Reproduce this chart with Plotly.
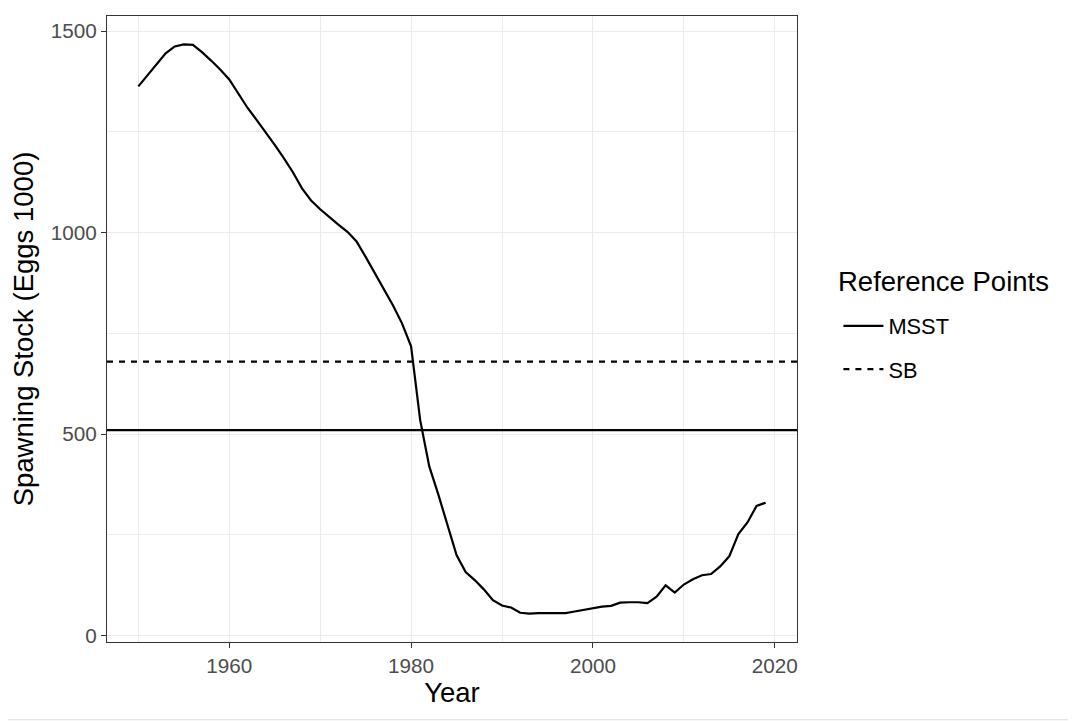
import plotly.graph_objects as go

years = list(range(1950, 2020))
spawning_stock = [
    1363, 1390, 1418, 1445, 1462, 1467, 1466, 1448, 1427, 1405,
    1380, 1345, 1310, 1280, 1250, 1218, 1185, 1150, 1110, 1080,
    1058, 1038, 1020, 1002, 978, 940, 900, 860, 820, 775,
    718, 535, 420, 350, 275, 200, 158, 138, 115, 88,
    75, 70, 57, 55, 56, 56, 55, 56, 60, 64,
    67, 72, 74, 82, 83, 83, 81, 97, 125, 107,
    127, 140, 150, 153, 172, 197, 252, 281, 322, 330,
]
ref_names = ["MSST", "SB"]
ref_values = [510, 680]
ref_dashes = ["solid", "6px,6px"]
x_ticks = [1960, 1980, 2000, 2020]
y_ticks = [0, 500, 1000, 1500]

# ggplot-like 5% expansion
xspan = years[-1] - years[0]
xr = [years[0] - 0.05 * xspan, years[-1] + 0.05 * xspan]
ymin, ymax = min(spawning_stock), max(spawning_stock)
yspan = ymax - ymin
yr = [ymin - 0.05 * yspan, ymax + 0.05 * yspan]

FONT = "Liberation Sans, Arial, Helvetica, sans-serif"

fig = go.Figure()
fig.add_trace(go.Scatter(x=years, y=spawning_stock, mode="lines",
                         line=dict(color="black", width=2.2),
                         showlegend=False, hoverinfo="x+y"))
for i, (nm, v, d) in enumerate(zip(ref_names, ref_values, ref_dashes)):
    fig.add_trace(go.Scatter(x=xr, y=[v, v], mode="lines", name=nm,
                             legendgroup=nm,
                             line=dict(color="black", width=2.2, dash=d)))

axis_common = dict(
    showline=True, mirror=True, linecolor="#333333", linewidth=1.1,
    ticks="outside", ticklen=5, tickwidth=1.1, tickcolor="#333333",
    tickfont=dict(family=FONT, size=20.7, color="#4D4D4D"),
    showgrid=True, gridcolor="#EBEBEB", gridwidth=1.1, zeroline=False,
)

fig.update_layout(
    width=1068, height=713,
    margin=dict(l=98.7, r=279.3, t=7.5, b=79.3),
    paper_bgcolor="white", plot_bgcolor="white",
    font=dict(family=FONT, color="black"),
    xaxis=dict(range=xr, tickvals=x_ticks,
               title=dict(text="Year", font=dict(size=27.5, color="black"), standoff=4),
               minor=dict(dtick=10, tick0=1950, showgrid=True, gridcolor="#EBEBEB", gridwidth=0.6, ticks=""),
               **axis_common),
    yaxis=dict(range=yr, tickvals=y_ticks,
               title=dict(text="Spawning Stock (Eggs 1000)", font=dict(size=27.5, color="black"), standoff=10),
               minor=dict(dtick=250, tick0=0, showgrid=True, gridcolor="#EBEBEB", gridwidth=0.6, ticks=""),
               **axis_common),
    legend=dict(
        font=dict(size=21.8, color="black"),
        x=1.06, xanchor="left", y=0.538, yanchor="top",
        tracegroupgap=12, itemwidth=40,
        bgcolor="rgba(0,0,0,0)",
    ),
    annotations=[dict(text="Reference Points", xref="paper", yref="paper",
                      x=1.057, y=0.576, xanchor="left", yanchor="middle",
                      showarrow=False, font=dict(size=27.5, color="black"))],
    shapes=[
        dict(type="line", xref="paper", yref="paper",
             x0=-0.1546, x1=1.4025, y0=-0.1242, y1=-0.1242,
             line=dict(color="#DDDDDD", width=1), layer="below"),
        dict(type="line", xref="paper", yref="paper",
             x0=1.4025, x1=1.4025, y0=-0.1242, y1=1.0242,
             line=dict(color="#DDDDDD", width=1), layer="below"),
    ],
)

fig.write_html("out.html")
